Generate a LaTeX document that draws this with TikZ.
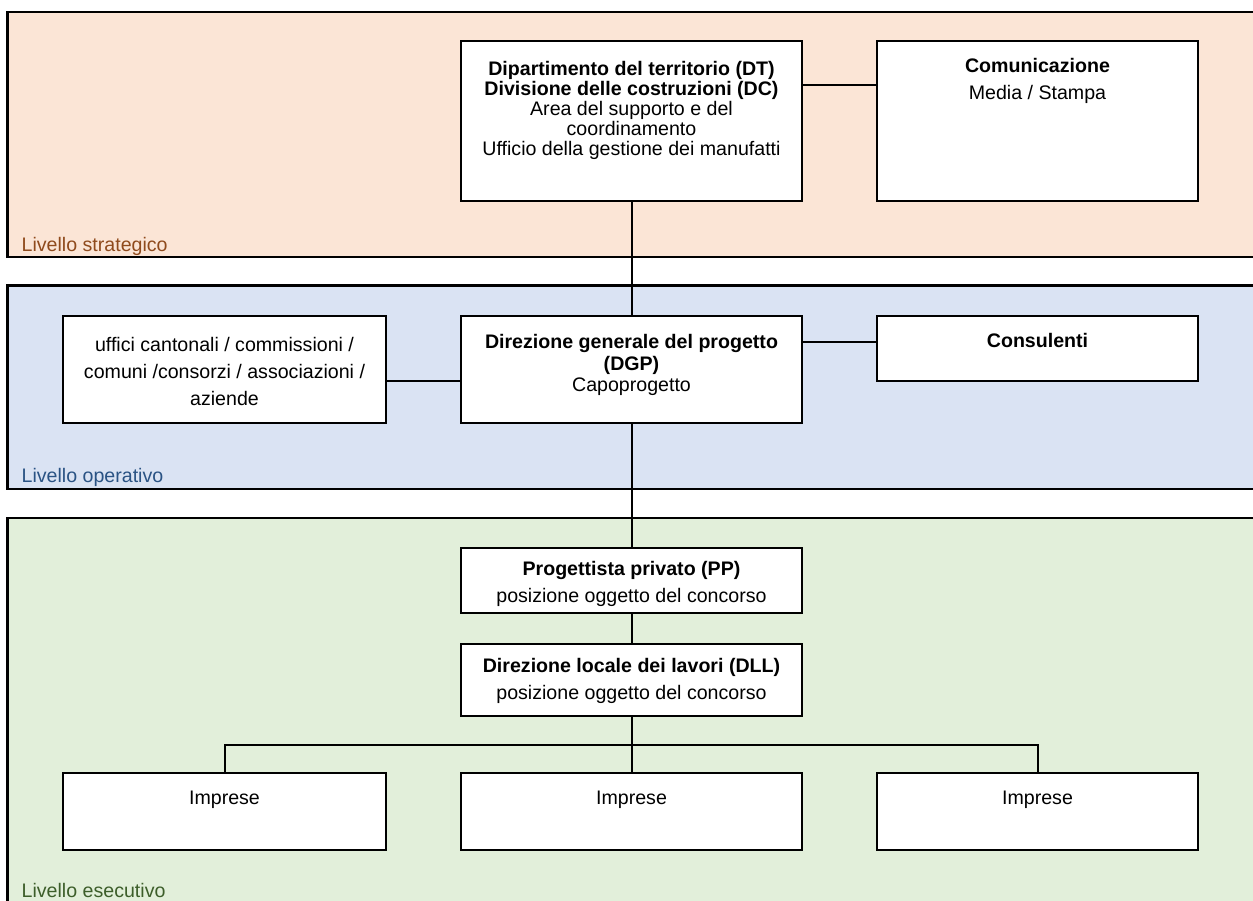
\documentclass[tikz,border=0pt]{standalone}
\usepackage{fontspec}
\setmainfont{Liberation Sans}
\usetikzlibrary{positioning}
\definecolor[named]{StratFill}{HTML}{FBE5D6}
\definecolor[named]{StratText}{HTML}{8F4A1C}
\definecolor[named]{OperFill}{HTML}{DAE3F3}
\definecolor[named]{OperText}{HTML}{2A5384}
\definecolor[named]{EsecFill}{HTML}{E2EFDA}
\definecolor[named]{EsecText}{HTML}{3D5E2A}
\newcommand{\txtsize}{\fontsize{19.6}{27}\selectfont}
\newcommand{\tightsize}[1]{\fontsize{19.6}{#1}\selectfont}
\tikzset{
  box/.style={draw,line width=2.3pt,fill=white,inner sep=0pt},
  boxtext/.style={inner sep=0pt,align=center,font=\txtsize},
  link/.style={line width=2pt},
  band/.style={line width=2.3pt},
  lvl/.style={inner sep=0pt,anchor=base west,font=\txtsize}
}

\begin{document}
\begin{tikzpicture}[x=1pt,y=-1pt]
  \useasboundingbox (0,0) rectangle (1253,900);

  % Levels (open on the right, they run out of the picture)
  \fill[StratFill] (7.5,12) rectangle (1260,257);
  \draw[band] (1260,12) -- (7.5,12) -- (7.5,257) -- (1260,257);
  \fill[OperFill] (7.5,285.5) rectangle (1260,489);
  \draw[band] (1260,285.5) -- (7.5,285.5) -- (7.5,489) -- (1260,489);
  \fill[EsecFill] (7.5,518) rectangle (1260,910);
  \draw[band] (1260,518) -- (7.5,518) -- (7.5,910);

  \node[lvl,text=StratText] (LS) at (21.5,251) {Livello strategico};
  \node[lvl,text=OperText]  (LO) at (21.5,482) {Livello operativo};
  \node[lvl,text=EsecText]  (LE) at (21.5,897) {Livello esecutivo};

  % Boxes
  \node[box,minimum width=341pt,minimum height=160pt] (DT)   at (631.5,121)   {};
  \node[box,minimum width=321pt,minimum height=160pt] (COM)  at (1037.5,121)  {};
  \node[box,minimum width=323pt,minimum height=107pt] (UFF)  at (224.5,369.5) {};
  \node[box,minimum width=341pt,minimum height=107pt] (DGP)  at (631.5,369.5) {};
  \node[box,minimum width=321pt,minimum height=65pt]  (CONS) at (1037.5,348.5) {};
  \node[box,minimum width=341pt,minimum height=65pt]  (PP)   at (631.5,580.5) {};
  \node[box,minimum width=341pt,minimum height=72pt]  (DLL)  at (631.5,680)   {};
  \node[box,minimum width=323pt,minimum height=77pt]  (IMP1) at (224.5,811.5) {};
  \node[box,minimum width=341pt,minimum height=77pt]  (IMP2) at (631.5,811.5) {};
  \node[box,minimum width=321pt,minimum height=77pt]  (IMP3) at (1037.5,811.5) {};

  % Texts, hanging from the top of each box
  \node[boxtext,font=\tightsize{19.8},below=21.7pt of DT.north] (DTt)
    {\textbf{Dipartimento del territorio (DT)}\\
     \textbf{Divisione delle costruzioni (DC)}\\
     Area del supporto e del\\ coordinamento\\
     Ufficio della gestione dei manufatti};
  \node[boxtext,below=18pt of COM.north] (COMt)
    {\textbf{Comunicazione}\\ Media / Stampa};
  \node[boxtext,below=22.7pt of UFF.north] (UFFt)
    {uffici cantonali / commissioni /\\
     comuni /consorzi / associazioni /\\ aziende};
  \node[boxtext,font=\tightsize{21.5},below=19.7pt of DGP.north] (DGPt)
    {\textbf{Direzione generale del progetto}\\ \textbf{(DGP)}\\ Capoprogetto};
  \node[boxtext,below=18pt of CONS.north] (CONSt) {\textbf{Consulenti}};
  \node[boxtext,below=14.4pt of PP.north] (PPt)
    {\textbf{Progettista privato (PP)}\\ posizione oggetto del concorso};
  \node[boxtext,below=15.7pt of DLL.north] (DLLt)
    {\textbf{Direzione locale dei lavori (DLL)}\\ posizione oggetto del concorso};
  \foreach \i in {1,2,3}
    \node[boxtext,below=19.4pt of IMP\i.north] (IMP\i t) {Imprese};

  % Links
  \draw[link] (DT) -- (DGP);
  \draw[link] (DGP) -- (PP);
  \draw[link] (PP) -- (DLL);
  \draw[link] (DLL) -- (IMP2);
  \draw[link] ([yshift=-45pt]DT.north east) -- ([yshift=-45pt]COM.north west);
  \draw[link] ([yshift=-27.5pt]DGP.north east) -- ([yshift=-27.5pt]CONS.north west);
  \draw[link] ([yshift=-66pt]UFF.north east) -- ([yshift=-66pt]DGP.north west);

  % Bus to the firms
  \coordinate (bus) at (631.5,744.5);
  \draw[link] (IMP1.north) -- (IMP1.north |- bus) -- (IMP3.north |- bus) -- (IMP3.north);
\end{tikzpicture}
\end{document}
